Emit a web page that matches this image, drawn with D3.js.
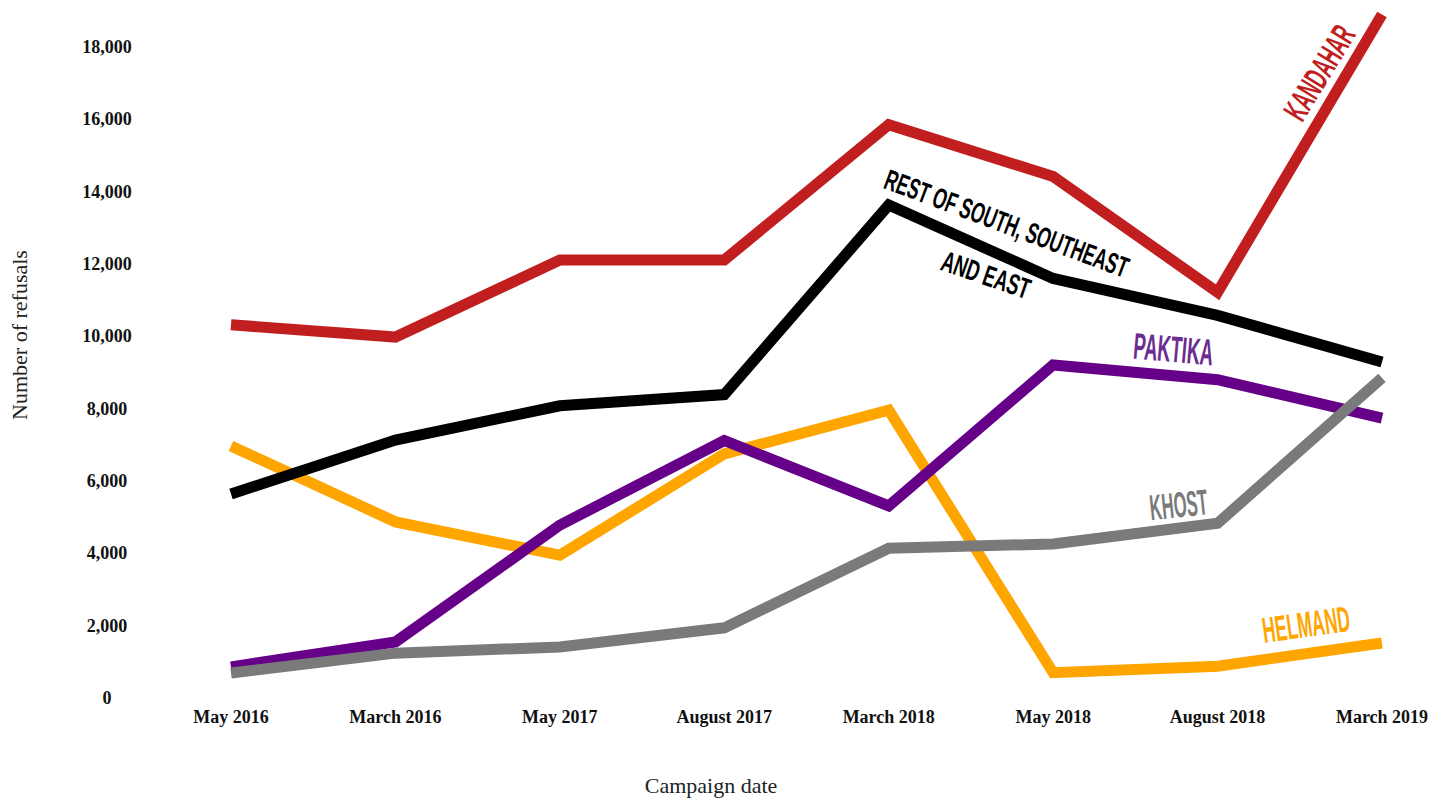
<!DOCTYPE html>
<html>
<head>
<meta charset="utf-8">
<script src="https://cdn.jsdelivr.net/npm/d3@7"></script>
<style>
  html, body { margin: 0; padding: 0; background: #fff; }
  svg { display: block; }
</style>
</head>
<body>
<svg id="chart" width="1448" height="799"></svg>
<script>
const categories = ["May 2016", "March 2016", "May 2017", "August 2017", "March 2018", "May 2018", "August 2018", "March 2019"];
const yTicks = [0, 2000, 4000, 6000, 8000, 10000, 12000, 14000, 16000, 18000];

const kandahar = [10320, 9980, 12110, 12110, 15850, 14420, 11220, 18900];
const restSouth = [5640, 7130, 8080, 8390, 13630, 11600, 10580, 9290];
const helmand = [6970, 4870, 3950, 6750, 7960, 700, 880, 1520];
const paktika = [860, 1550, 4780, 7120, 5310, 9210, 8800, 7740];
const khost = [690, 1240, 1410, 1940, 4140, 4260, 4830, 8850];

const seriesNames = ["KANDAHAR", "HELMAND", "REST OF SOUTH, SOUTHEAST", "PAKTIKA", "KHOST"];

const svg = d3.select("#chart");
const x = d3.scalePoint().domain(categories).range([231, 1382]);
const y = d3.scaleLinear().domain([0, 18000]).range([698, 47]);

const serif = "'Liberation Serif', 'DejaVu Serif', serif";
const condensed = "'Liberation Sans Narrow', 'Liberation Sans', Arial, sans-serif";

// Y tick labels
svg.append("g").selectAll("text").data(yTicks).join("text")
  .attr("x", 107)
  .attr("y", d => y(d))
  .attr("dy", "0.33em")
  .attr("text-anchor", "middle")
  .attr("font-family", serif)
  .attr("font-weight", "bold")
  .attr("font-size", 18)
  .attr("fill", "#111")
  .text(d => d3.format(",")(d));

// X tick labels
svg.append("g").selectAll("text").data(categories).join("text")
  .attr("x", d => x(d))
  .attr("y", 723)
  .attr("text-anchor", "middle")
  .attr("font-family", serif)
  .attr("font-weight", "bold")
  .attr("font-size", 18)
  .attr("fill", "#111")
  .text(d => d);

// Axis titles
svg.append("text")
  .attr("transform", "translate(27,335) rotate(-90)")
  .attr("text-anchor", "middle")
  .attr("font-family", serif)
  .attr("font-size", 22)
  .attr("fill", "#222")
  .text("Number of refusals");

svg.append("text")
  .attr("x", 711)
  .attr("y", 793)
  .attr("text-anchor", "middle")
  .attr("font-family", serif)
  .attr("font-size", 22)
  .attr("fill", "#222")
  .text("Campaign date");

// Lines
const line = d3.line()
  .x((d, i) => x(categories[i]))
  .y(d => y(d));

const lineSeries = [
  { values: kandahar, color: "#c11f1f" },
  { values: helmand, color: "#ffa500" },
  { values: restSouth, color: "#000000" },
  { values: paktika, color: "#660088" },
  { values: khost, color: "#7a7a7a" }
];

svg.append("g").selectAll("path").data(lineSeries).join("path")
  .attr("d", d => line(d.values))
  .attr("fill", "none")
  .attr("stroke", d => d.color)
  .attr("stroke-width", 11)
  .attr("stroke-linejoin", "miter")
  .attr("stroke-linecap", "butt");

// Series labels (positioned relative to data points), condensed by horizontal scaling
function addLabel(text, cx, cy, angle, size, len, color) {
  const t = svg.append("text")
    .attr("text-anchor", "middle")
    .attr("dy", "0.36em")
    .attr("font-family", condensed)
    .attr("font-weight", "bold")
    .attr("font-size", size)
    .attr("fill", color)
    .text(text);
  const natural = t.node().getComputedTextLength() || len;
  const sx = len / natural;
  t.attr("transform", `translate(${cx},${cy}) rotate(${angle}) scale(${sx},1)`);
}

addLabel(seriesNames[0], x(categories[7]) - 63, y(kandahar[7]) + 58, -58.5, 34, 104, "#c11f1f");
addLabel(seriesNames[2], x(categories[4]) + 118, y(restSouth[4]) + 18, 20.5, 29, 258, "#000");
addLabel("AND EAST", x(categories[5]) - 67, y(restSouth[5]) - 4, 19, 29, 92, "#000");
addLabel(seriesNames[3], x(categories[6]) - 44, y(paktika[6]) - 31, 5, 37, 80, "#6b2d8f");
addLabel(seriesNames[4], x(categories[6]) - 39, y(khost[6]) - 19, -6, 36, 58, "#7a7a7a");
addLabel(seriesNames[1], x(categories[7]) - 76, y(helmand[7]) - 19, -8, 36, 88, "#ffa500");
</script>
</body>
</html>
